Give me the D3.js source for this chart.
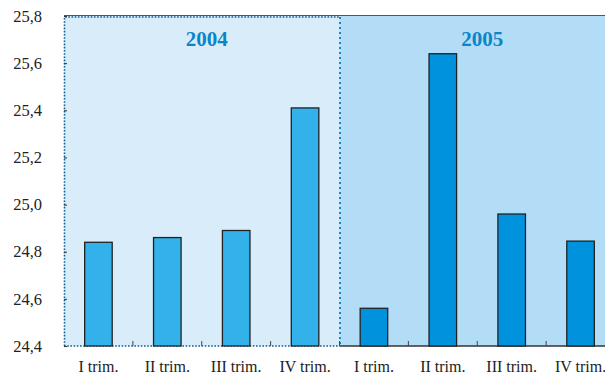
<!DOCTYPE html>
<html>
<head>
<meta charset="utf-8">
<script src="https://cdn.jsdelivr.net/npm/d3@7"></script>
<style>
  html, body { margin: 0; padding: 0; background: #ffffff; }
  svg { display: block; }
  text { font-family: "Liberation Serif", "Times New Roman", serif; }
</style>
</head>
<body>
<svg id="chart" width="605" height="373"></svg>
<script>
// Quarterly values, two years side by side
const quarters = ["I trim.", "II trim.", "III trim.", "IV trim."];
const years = ["2004", "2005"];
const values2004 = [24.84, 24.86, 24.89, 25.41];
const values2005 = [24.56, 25.64, 24.96, 24.845];
const yTicks = [24.4, 24.6, 24.8, 25.0, 25.2, 25.4, 25.6, 25.8];

const rows = [
  ...quarters.map((q, i) => ({ key: "2004-" + i, year: "2004", label: q, value: values2004[i] })),
  ...quarters.map((q, i) => ({ key: "2005-" + i, year: "2005", label: q, value: values2005[i] }))
];

const margin = { left: 64, top: 16, right: -10, bottom: 27 };
const W = 605, H = 373;
const svg = d3.select("#chart");

const x = d3.scaleBand()
  .domain(rows.map(d => d.key))
  .range([margin.left, W - margin.right])
  .paddingInner(0.6)
  .paddingOuter(0.3);

const y = d3.scaleLinear()
  .domain([24.4, 25.8])
  .range([H - margin.bottom, margin.top]);

const step = x.step();
const x0 = margin.left;
const xMid = x0 + step * 4;
const xEnd = x0 + step * 8;
const yTop = y(25.8), yBot = y(24.4);

const bgColor = { "2004": "#d9ecfa", "2005": "#b3ddf6" };
const barColor = { "2004": "#33b1ea", "2005": "#0092dd" };

// Year panels
svg.append("rect").attr("x", x0).attr("y", yTop).attr("width", xMid - x0).attr("height", yBot - yTop)
  .attr("fill", bgColor["2004"]);
svg.append("rect").attr("x", xMid).attr("y", yTop).attr("width", xEnd - xMid).attr("height", yBot - yTop)
  .attr("fill", bgColor["2005"]);

// Top frame line
svg.append("line").attr("x1", x0).attr("x2", xEnd).attr("y1", yTop - 0.5).attr("y2", yTop - 0.5)
  .attr("stroke", "#555").attr("stroke-width", 1.2);

// Dotted border of the first year panel
const dotted = "#0d5f95";
svg.append("path")
  .attr("d", `M${x0 + 0.5},${yBot} L${x0 + 0.5},${yTop + 1} L${xMid},${yTop + 1}`)
  .attr("fill", "none").attr("stroke", dotted).attr("stroke-width", 1.6).attr("stroke-dasharray", "1.6,1.6");
svg.append("line").attr("x1", xMid + 0.5).attr("x2", xMid + 0.5).attr("y1", yTop + 1).attr("y2", yBot)
  .attr("stroke", "#0a7cc4").attr("stroke-width", 1.8).attr("stroke-dasharray", "2,3");

// Bottom axis: dotted under 2004, solid under 2005
svg.append("line").attr("x1", x0).attr("x2", xMid).attr("y1", yBot).attr("y2", yBot)
  .attr("stroke", dotted).attr("stroke-width", 1.6).attr("stroke-dasharray", "1.6,1.6");
svg.append("line").attr("x1", xMid).attr("x2", xEnd).attr("y1", yBot).attr("y2", yBot)
  .attr("stroke", "#333").attr("stroke-width", 1.4);

// Bars
svg.append("g").selectAll("rect").data(rows).join("rect")
  .attr("x", d => x(d.key))
  .attr("y", d => y(d.value))
  .attr("width", x.bandwidth())
  .attr("height", d => yBot - y(d.value))
  .attr("fill", d => barColor[d.year])
  .attr("stroke", "#222")
  .attr("stroke-width", 1.3);

// Category separator ticks along the bottom
const sepTicks = d3.range(1, 8).map(i => x0 + step * i);
svg.append("g").selectAll("line").data(sepTicks).join("line")
  .attr("x1", d => d).attr("x2", d => d)
  .attr("y1", yBot).attr("y2", yBot - 5)
  .attr("stroke", "#444").attr("stroke-width", 1);

// Y axis
const yAxis = d3.axisLeft(y).tickValues(yTicks).tickSizeInner(-3).tickSizeOuter(0).tickPadding(22)
  .tickFormat(d => d3.format(".1f")(d).replace(".", ","));
const gy = svg.append("g").attr("transform", `translate(${x0},0)`).call(yAxis);
gy.select(".domain").remove();
gy.selectAll(".tick line").attr("stroke", "#333").attr("stroke-width", 1);
gy.selectAll(".tick text").attr("font-size", 16.5).attr("fill", "#222")
  .attr("font-family", "'Liberation Serif', serif");

// X axis labels
const xAxis = d3.axisBottom(x).tickSize(0).tickFormat(k => rows.find(r => r.key === k).label);
const gx = svg.append("g").attr("transform", `translate(0,${yBot})`).call(xAxis);
gx.select(".domain").remove();
gx.selectAll(".tick text").attr("font-size", 16).attr("fill", "#222")
  .attr("y", 25.5).attr("dy", 0)
  .attr("font-family", "'Liberation Serif', serif");

// Year headings
const yearCenters = { "2004": (x0 + xMid) / 2 + 5, "2005": (xMid + xEnd) / 2 + 5 };
svg.append("g").selectAll("text").data(years).join("text")
  .attr("x", d => yearCenters[d])
  .attr("y", y(25.7) + 6.5)
  .attr("text-anchor", "middle")
  .attr("font-size", 21)
  .attr("font-weight", "bold")
  .attr("fill", "#0b84c9")
  .text(d => d);
</script>
</body>
</html>
